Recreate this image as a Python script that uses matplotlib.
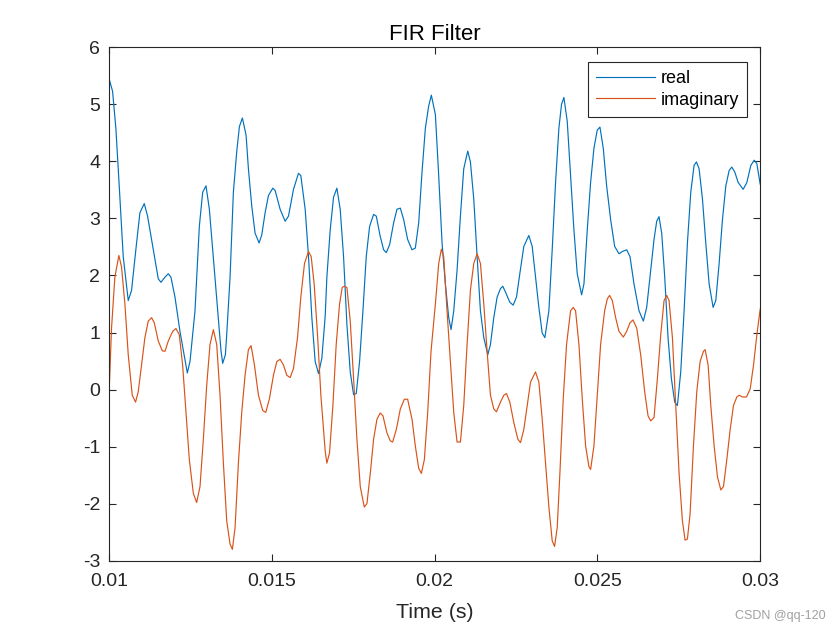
import numpy as np
import matplotlib
matplotlib.use("Agg")
import matplotlib.pyplot as plt

plt.rcParams['font.family'] = ['Liberation Sans', 'DejaVu Sans']
plt.rcParams['axes.unicode_minus'] = False

# ---- data (time in ms) ----
real_t_ms = [10.000, 10.103, 10.205, 10.308, 10.431, 10.585, 10.687, 10.841, 10.944, 11.077,
             11.179, 11.354, 11.508, 11.590, 11.713, 11.815, 11.897, 12.021, 12.174, 12.400,
             12.482, 12.636, 12.769, 12.872, 12.974, 13.077, 13.179, 13.333, 13.436, 13.487,
             13.569, 13.610, 13.713, 13.815, 13.918, 14.000, 14.092, 14.205, 14.277, 14.379,
             14.482, 14.605, 14.687, 14.790, 14.892, 15.026, 15.097, 15.251, 15.405, 15.508,
             15.662, 15.815, 15.887, 16.021, 16.123, 16.226, 16.328, 16.431, 16.533, 16.636,
             16.687, 16.790, 16.892, 16.995, 17.097, 17.200, 17.303, 17.405, 17.508, 17.590,
             17.692, 17.795, 17.897, 18.000, 18.123, 18.205, 18.328, 18.431, 18.513, 18.615,
             18.738, 18.841, 18.944, 19.046, 19.169, 19.303, 19.405, 19.508, 19.610, 19.713,
             19.815, 19.897, 20.021, 20.123, 20.226, 20.328, 20.431, 20.503, 20.585, 20.687,
             20.790, 20.892, 21.015, 21.097, 21.200, 21.303, 21.405, 21.508, 21.631, 21.713,
             21.815, 21.918, 22.021, 22.092, 22.174, 22.308, 22.410, 22.513, 22.615, 22.738,
             22.892, 22.995, 23.097, 23.200, 23.303, 23.385, 23.508, 23.610, 23.713, 23.815,
             23.897, 23.969, 24.072, 24.174, 24.277, 24.379, 24.513, 24.585, 24.687, 24.790,
             24.892, 24.995, 25.077, 25.179, 25.282, 25.405, 25.528, 25.662, 25.764, 25.897,
             26.000, 26.123, 26.277, 26.410, 26.513, 26.636, 26.738, 26.820, 26.892, 26.974,
             27.067, 27.169, 27.272, 27.374, 27.456, 27.559, 27.662, 27.764, 27.867, 27.969,
             28.041, 28.123, 28.226, 28.328, 28.431, 28.554, 28.636, 28.738, 28.841, 28.944,
             29.046, 29.128, 29.221, 29.323, 29.477, 29.590, 29.713, 29.815, 29.897, 30.000]
real_vals = [5.44, 5.23, 4.58, 3.57, 2.33, 1.56, 1.74, 2.57, 3.10, 3.26,
             3.04, 2.45, 1.94, 1.88, 1.97, 2.03, 1.97, 1.62, 1.02, 0.29,
             0.49, 1.38, 2.86, 3.46, 3.57, 3.16, 2.45, 1.38, 0.67, 0.46,
             0.61, 0.96, 1.97, 3.46, 4.17, 4.61, 4.76, 4.46, 3.87, 3.22,
             2.74, 2.57, 2.71, 3.10, 3.40, 3.53, 3.49, 3.16, 2.95, 3.04,
             3.51, 3.79, 3.75, 3.16, 2.33, 1.26, 0.49, 0.28, 0.55, 1.29,
             1.97, 2.80, 3.37, 3.53, 3.16, 2.33, 1.14, 0.31, -0.09, -0.07,
             0.49, 1.38, 2.33, 2.86, 3.07, 3.04, 2.68, 2.45, 2.40, 2.54,
             2.92, 3.16, 3.18, 2.98, 2.63, 2.45, 2.48, 2.92, 3.81, 4.58,
             4.97, 5.16, 4.82, 3.75, 2.57, 1.85, 1.26, 1.05, 1.38, 2.09,
             3.04, 3.87, 4.18, 3.99, 3.34, 2.33, 1.38, 0.91, 0.61, 0.79,
             1.26, 1.62, 1.77, 1.81, 1.71, 1.53, 1.48, 1.62, 2.03, 2.51,
             2.70, 2.51, 1.97, 1.44, 0.99, 0.91, 1.38, 2.45, 3.63, 4.58,
             5.00, 5.12, 4.70, 3.75, 2.80, 2.03, 1.66, 1.85, 2.80, 3.63,
             4.23, 4.55, 4.60, 4.23, 3.57, 2.98, 2.51, 2.38, 2.42, 2.45,
             2.33, 1.85, 1.38, 1.20, 1.44, 2.09, 2.63, 2.95, 3.03, 2.74,
             1.97, 0.91, 0.19, -0.22, -0.28, 0.31, 1.38, 2.57, 3.46, 3.93,
             3.99, 3.87, 3.34, 2.57, 1.85, 1.44, 1.56, 2.21, 2.98, 3.57,
             3.84, 3.90, 3.81, 3.63, 3.51, 3.63, 3.93, 4.02, 3.96, 3.60]

imag_t_ms = [10.000, 10.072, 10.174, 10.297, 10.379, 10.482, 10.585, 10.708, 10.810, 10.892,
             10.995, 11.097, 11.200, 11.303, 11.385, 11.508, 11.631, 11.713, 11.815, 11.949,
             12.051, 12.154, 12.256, 12.359, 12.462, 12.585, 12.687, 12.790, 12.892, 12.995,
             13.097, 13.200, 13.303, 13.405, 13.508, 13.610, 13.713, 13.785, 13.867, 13.969,
             14.072, 14.174, 14.277, 14.359, 14.462, 14.585, 14.718, 14.810, 14.923, 15.046,
             15.149, 15.251, 15.354, 15.456, 15.559, 15.662, 15.785, 15.887, 16.000, 16.123,
             16.205, 16.297, 16.400, 16.503, 16.636, 16.687, 16.769, 16.872, 16.974, 17.077,
             17.159, 17.221, 17.303, 17.405, 17.508, 17.610, 17.713, 17.836, 17.918, 18.021,
             18.123, 18.226, 18.328, 18.410, 18.533, 18.636, 18.708, 18.821, 18.944, 19.067,
             19.169, 19.303, 19.405, 19.508, 19.590, 19.682, 19.785, 19.887, 20.021, 20.123,
             20.205, 20.277, 20.379, 20.482, 20.585, 20.687, 20.790, 20.892, 20.995, 21.097,
             21.200, 21.303, 21.405, 21.508, 21.610, 21.713, 21.815, 21.897, 22.021, 22.123,
             22.205, 22.308, 22.431, 22.554, 22.636, 22.738, 22.841, 22.944, 23.097, 23.200,
             23.303, 23.405, 23.508, 23.610, 23.682, 23.764, 23.846, 23.949, 24.051, 24.174,
             24.256, 24.328, 24.431, 24.533, 24.636, 24.738, 24.790, 24.892, 24.995, 25.097,
             25.221, 25.303, 25.374, 25.456, 25.559, 25.662, 25.795, 25.897, 26.000, 26.092,
             26.205, 26.328, 26.451, 26.554, 26.636, 26.738, 26.841, 26.944, 27.046, 27.128,
             27.200, 27.303, 27.405, 27.508, 27.610, 27.692, 27.764, 27.846, 27.949, 28.051,
             28.154, 28.256, 28.308, 28.400, 28.482, 28.585, 28.687, 28.790, 28.872, 28.974,
             29.077, 29.179, 29.282, 29.354, 29.456, 29.579, 29.692, 29.795, 29.897, 30.000]
imag_vals = [-0.01, 1.08, 1.97, 2.35, 2.15, 1.50, 0.61, -0.10, -0.22, -0.04,
             0.43, 0.91, 1.20, 1.26, 1.17, 0.85, 0.68, 0.67, 0.85, 1.02,
             1.07, 0.96, 0.43, -0.40, -1.23, -1.82, -1.98, -1.70, -0.87, 0.07,
             0.79, 1.05, 0.79, -0.10, -1.29, -2.30, -2.71, -2.80, -2.42, -1.29,
             -0.40, 0.25, 0.70, 0.77, 0.43, -0.10, -0.37, -0.40, -0.16, 0.25,
             0.49, 0.53, 0.43, 0.25, 0.21, 0.37, 0.91, 1.62, 2.21, 2.42,
             2.33, 1.85, 0.96, -0.10, -1.08, -1.29, -1.11, -0.28, 0.79, 1.50,
             1.79, 1.81, 1.79, 1.20, 0.19, -0.87, -1.70, -2.06, -2.00, -1.47,
             -0.87, -0.52, -0.41, -0.46, -0.76, -0.90, -0.92, -0.70, -0.34, -0.17,
             -0.17, -0.52, -0.99, -1.38, -1.47, -1.23, -0.40, 0.67, 1.50, 2.21,
             2.46, 2.33, 1.38, 0.49, -0.40, -0.92, -0.92, -0.28, 0.79, 1.74,
             2.21, 2.38, 2.21, 1.50, 0.67, -0.10, -0.34, -0.39, -0.22, -0.10,
             -0.07, -0.22, -0.58, -0.87, -0.93, -0.70, -0.28, 0.13, 0.31, 0.13,
             -0.52, -1.29, -2.06, -2.65, -2.75, -2.42, -1.47, -0.16, 0.79, 1.38,
             1.44, 1.38, 0.79, -0.16, -0.99, -1.35, -1.40, -0.99, -0.10, 0.79,
             1.38, 1.59, 1.65, 1.56, 1.26, 1.02, 0.92, 1.02, 1.17, 1.22,
             1.08, 0.61, -0.04, -0.46, -0.55, -0.49, 0.19, 0.96, 1.56, 1.65,
             1.56, 0.91, -0.28, -1.47, -2.30, -2.64, -2.62, -2.18, -0.99, -0.04,
             0.49, 0.67, 0.70, 0.43, -0.28, -0.99, -1.53, -1.76, -1.70, -1.23,
             -0.70, -0.28, -0.13, -0.10, -0.13, -0.13, 0.01, 0.43, 0.96, 1.41]

series_labels = ["real", "imaginary"]
x_ticks = [0.01, 0.015, 0.02, 0.025, 0.03]
x_tick_labels = ["0.01", "0.015", "0.02", "0.025", "0.03"]
y_ticks = [-3, -2, -1, 0, 1, 2, 3, 4, 5, 6]

# ---- figure ----
fig = plt.figure(figsize=(8.4, 6.3), dpi=100)
ax = fig.add_axes([0.13, 0.11, 0.775, 0.815])

blue = "#0072BD"
orange = "#D95319"
real_t = np.array(real_t_ms) / 1000.0
imag_t = np.array(imag_t_ms) / 1000.0
ax.plot(real_t, real_vals, color=blue, lw=0.85, label=series_labels[0])
ax.plot(imag_t, imag_vals, color=orange, lw=0.85, label=series_labels[1])

ax.set_xlim(0.01, 0.03)
ax.set_ylim(-3, 6)
ax.set_xticks(x_ticks)
ax.set_xticklabels(x_tick_labels)
ax.set_yticks(y_ticks)

axc = "#262626"
for s in ax.spines.values():
    s.set_color(axc)
    s.set_linewidth(0.8)
ax.tick_params(direction="in", top=True, right=True, length=5, width=0.8,
               colors=axc, labelsize=14)
ax.tick_params(axis="x", pad=8.5)
ax.tick_params(axis="y", pad=6.5)
for lab in ax.get_xticklabels() + ax.get_yticklabels():
    lab.set_color(axc)

ax.set_title("FIR Filter", fontsize=16, color="#000000", pad=5.5)
ax.set_xlabel("Time (s)", fontsize=15.4, color=axc, labelpad=9.5)

leg = ax.legend(loc="upper right", bbox_to_anchor=(0.980, 0.971), fontsize=13,
                frameon=True, fancybox=False, shadow=False, handlelength=3.3,
                handletextpad=0.3, borderpad=0.45, labelspacing=0.25,
                borderaxespad=0.0)
leg.get_frame().set_edgecolor(axc)
leg.get_frame().set_linewidth(0.8)
leg.get_frame().set_alpha(1)

fig.text(0.983, 0.012, "CSDN @qq-120", fontsize=9, color="#a0a0a0", ha="right", va="bottom")

fig.savefig("out.png", dpi=100, facecolor="white")
